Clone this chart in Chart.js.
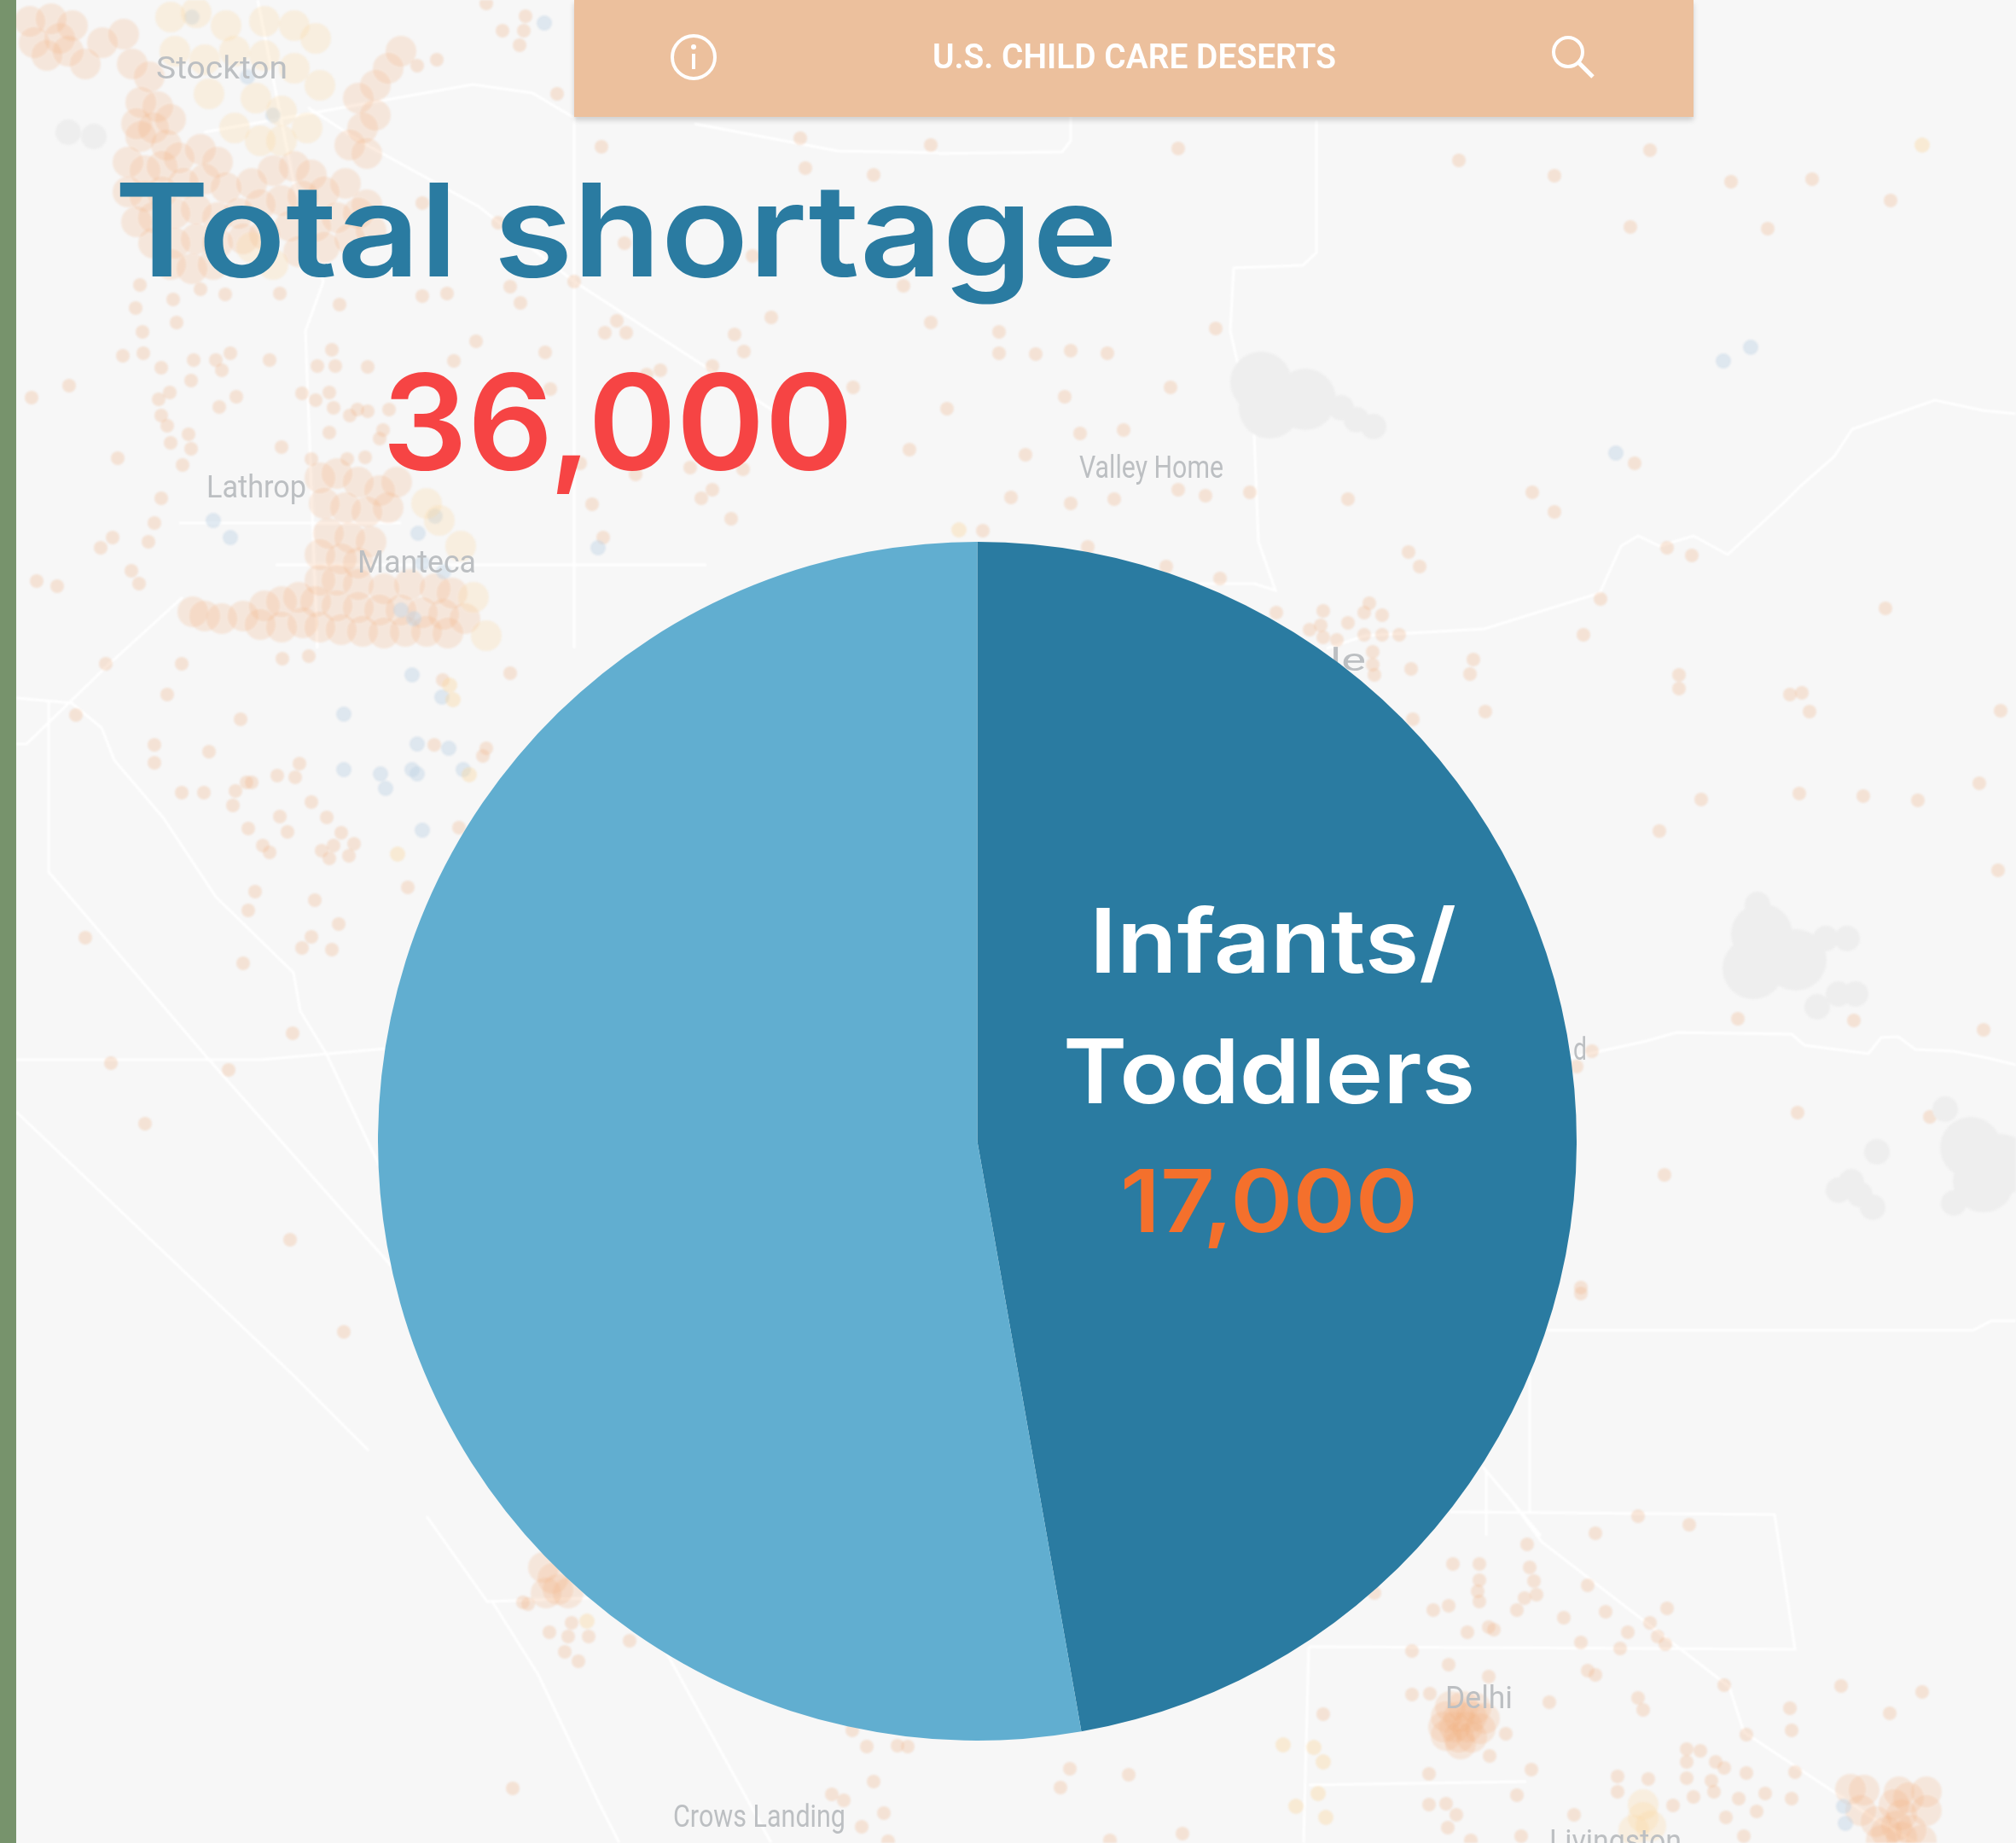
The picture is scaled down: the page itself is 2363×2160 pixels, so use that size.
<!DOCTYPE html>
<html>
<head>
<meta charset="utf-8">
<title>Total shortage</title>
<script src="https://cdn.jsdelivr.net/npm/chart.js@4"></script>
<style>
    html, body { margin: 0; padding: 0; width: 2363px; height: 2160px; overflow: hidden; background: #f7f7f7; }
    canvas, svg { position: absolute; display: block; }
    #mapChart { left: 0; top: 0; filter: blur(1.2px); }
    #mapLabels, #overlay { left: 0; top: 0; }
    #pieChart { left: 443px; top: 635px; }
    #strip { position: absolute; left: 0; top: 0; width: 19px; height: 2160px; background: #77936c; }
    #header { position: absolute; left: 673px; top: 0; width: 1312px; height: 137px; background: #ecc09d; box-shadow: 0 4px 6px rgba(0, 0, 0, .16); }
    #mapLabels text { font-family: Roboto, sans-serif; font-size: 36px; fill: #bcbfc2; }
    #overlay text { font-family: Inter, sans-serif; font-weight: 600; }
</style>
</head>
<body>
<canvas id="mapChart" width="2363" height="2160"></canvas>
<svg id="mapLabels" width="2363" height="2160">
    <text x="183" y="92" textLength="154" lengthAdjust="spacingAndGlyphs">Stockton</text>
    <text x="242" y="583" textLength="117" lengthAdjust="spacingAndGlyphs">Lathrop</text>
    <text x="419" y="671" textLength="139" lengthAdjust="spacingAndGlyphs">Manteca</text>
    <text x="1265" y="560" textLength="169" lengthAdjust="spacingAndGlyphs">Valley Home</text>
    <text x="1694" y="2002" textLength="79" lengthAdjust="spacingAndGlyphs">Delhi</text>
    <text x="789" y="2141" textLength="202" lengthAdjust="spacingAndGlyphs">Crows Landing</text>
    <text x="1816" y="2170" textLength="155" lengthAdjust="spacingAndGlyphs">Livingston</text>
    <text x="1559" y="786" textLength="42" lengthAdjust="spacingAndGlyphs">le</text>
    <text x="1844" y="1242" textLength="16" lengthAdjust="spacingAndGlyphs">d</text>
</svg>
<canvas id="pieChart" width="1405" height="1405"></canvas>
<div id="strip"></div>
<div id="header"></div>
<svg id="overlay" width="2363" height="2160">
    <circle cx="813" cy="67" r="25" fill="none" stroke="#fff" stroke-width="4"/>
    <circle cx="813" cy="55" r="3" fill="#fff"/>
    <line x1="813" y1="63" x2="813" y2="81" stroke="#fff" stroke-width="4"/>
    <circle cx="1838" cy="61" r="17" fill="none" stroke="#fff" stroke-width="4"/>
    <line x1="1850" y1="73" x2="1867" y2="90" stroke="#fff" stroke-width="5"/>
    <text x="1093" y="80" font-size="41" font-weight="700" fill="#fff" textLength="473" lengthAdjust="spacingAndGlyphs" style="font-family: Roboto, sans-serif">U.S. CHILD CARE DESERTS</text>
    <text x="134" y="324" font-size="151" fill="#2a7ba1" textLength="1176" lengthAdjust="spacingAndGlyphs">Total shortage</text>
    <text x="448" y="550" font-size="154" fill="#f64444" textLength="552" lengthAdjust="spacingAndGlyphs">36,000</text>
    <text x="1277" y="1140" font-size="104" font-weight="500" fill="#fff" textLength="430" lengthAdjust="spacingAndGlyphs">Infants/</text>
    <text x="1246" y="1293" font-size="104" font-weight="500" fill="#fff" textLength="483" lengthAdjust="spacingAndGlyphs">Toddlers</text>
    <text x="1313" y="1444" font-size="102" fill="#f4702c" textLength="349" lengthAdjust="spacingAndGlyphs">17,000</text>
</svg>

<script>
// Pie values: 17,000 is printed, the other slice is the rest of the 36,000 total
const categories = ['Infants/Toddlers', 'Other ages'];
const shortage = [17000, 19000];

// Backdrop map in image pixels
const orangeDots = [
    [1381,174],[1710,188],[1822,206],[1934,176],[2029,213],[2124,210],[2216,235],[1911,266],[2072,268],
    [1171,389],[1171,414],[1214,415],[1255,411],[1298,414],[1425,385],[1372,454],[1248,465],[1110,479],
    [1266,508],[1317,504],[1202,533],[1185,583],[1255,590],[1306,585],[1381,574],[1413,581],[1465,577],
    [1580,585],[1916,543],[1796,577],[1822,600],[1651,647],[1664,664],[1152,622],[1275,641],[1367,664],
    [1430,678],[1954,642],[1983,651],[1876,702],[1856,744],[2210,713],[1727,773],[1723,790],[1654,784],
    [1968,791],[1968,807],[2098,814],[2112,812],[2121,834],[1741,834],[2345,833],[1994,937],[2109,930],
    [2184,933],[2248,938],[2320,918],[1945,974],[2342,1020],
    [1551,716],[1605,707],[1599,718],[1620,721],[1580,730],[1548,733],[1535,738],[1551,747],[1567,750],
    [1599,744],[1620,744],[1640,744],[1609,764],[1609,779],[1611,791],[1496,718],[1656,843],
    [124,778],[89,838],[213,778],[196,814],[282,843],[331,772],[362,769],[181,873],[181,894],[245,881],
    [213,929],[239,929],[276,927],[273,944],[289,917],[295,917],[325,909],[346,911],[351,895],[365,940],
    [328,957],[337,975],[383,958],[291,971],[308,991],[316,999],[377,997],[391,991],[386,1006],[400,976],
    [415,989],[409,1003],[299,1045],[291,1067],[369,1055],[397,1083],[365,1098],[354,1111],[389,1113],
    [100,1099],[285,1129],[343,1211],[130,1246],[268,1254],[170,1317],[340,1453],[403,1561],
    [478,1040],[538,970],[509,873],[519,797],[570,877],[566,886],[598,789],
    [1920,1777],[1980,1787],[1870,1797],[1790,1810],[1703,1833],[1734,1833],[1793,1837],[1798,1853],
    [1734,1852],[1732,1865],[1734,1877],[1861,1858],[1801,1869],[1787,1873],[1778,1887],[1698,1882],
    [1680,1887],[1611,1867],[1833,1896],[1882,1889],[1954,1885],[1934,1902],[1908,1913],[1943,1918],
    [1720,1913],[1745,1907],[1751,1910],[1853,1925],[1899,1932],[1952,1927],[1655,1935],[1698,1951],
    [1745,1965],[1861,1958],[1870,1963],[2021,1975],[2158,1976],[2253,1983],[1920,1990],[1816,1995],
    [1926,2004],[2098,2002],[2215,2008],[2100,2028],[2047,2033],[1655,1986],[1676,1985],[1551,2009],
    [1765,2032],
    [1746,2058],[1795,2074],[1675,2079],[1778,2104],[1675,2115],[1695,2114],[1707,2127],[1697,2142],
    [1254,2073],[1323,2080],[1243,2095],[1024,2088],[975,2103],[989,2110],[1036,2125],[1010,2141],
    [601,2096],[999,2028],[1016,2047],[1052,2046],[1064,2047],[1386,2149],[1301,2157],[1041,2158],
    [644,1913],[670,1902],[690,1918],[666,1918],[662,1936],[678,1947],[738,1923],
    [613,1878],[619,1880],
    [1977,2050],[1993,2052],[1977,2065],[2011,2065],[2021,2072],[2047,2078],[2104,2077],[1896,2082],
    [1932,2085],[1977,2084],[2006,2087],[1896,2100],[2009,2100],[1985,2106],[2038,2108],[2069,2102],
    [2100,2108],[1961,2116],[2059,2123],[2023,2130],[1845,2127],[1783,2152],[1724,2157],[2044,2152],
    [2037,1194],[2173,1196],[2325,1207],[1866,1232],[1848,1250],[2107,1304],[2262,1309],[1951,1377],
    [1853,1509],[1853,1516],
    [705,172],[944,197],[1024,205],[938,162],[1091,170],[653,110],[589,36],[616,19],[614,36],[609,53],
    [512,70],[489,77],[570,4],[495,238],[584,261],[598,336],[610,355],[673,330],[495,347],[524,344],
    [398,357],[1059,335],[732,285],[882,300],[904,372],[1091,378],[723,376],[709,390],[734,390],[861,392],
    [872,412],[558,400],[639,413],[532,423],[835,429],[774,434],[758,439],[431,430],[316,422],[270,414],
    [253,422],[260,434],[227,422],[224,446],[372,429],[393,429],[389,410],[189,431],[168,414],[144,417],
    [81,452],[37,466],[186,468],[199,460],[257,477],[277,465],[354,461],[370,469],[386,460],[391,478],
    [419,480],[431,482],[456,480],[645,456],[1000,454],[1066,527],[871,550],[809,548],[835,574],[822,584],
    [857,608],[694,591],[707,630],[745,556],[680,543],[330,524],[138,537],[167,389],[207,378],[159,361],
    [203,351],[164,334],[235,339],[264,345],[328,344],[410,487],[386,507],[365,538],[407,538],[428,536],
    [445,514],[449,504],[189,487],[196,499],[221,509],[200,519],[224,526],[214,545],[189,584],[181,613],
    [174,635],[132,630],[118,642],[154,669],[163,684],[43,681],[67,687]
];
// Stockton, Manteca and the town clusters, where the dots pile up
const denseDots = [
    [35,25],[60,22],[85,30],[70,45],[40,50],[55,65],[80,60],[100,75],[120,50],[145,40],[155,75],[175,90],
    [165,120],[185,125],[160,145],[180,150],[200,140],[165,160],[195,170],[150,190],[170,200],[190,195],
    [210,185],[235,175],[255,190],[150,225],[170,230],[190,225],[215,215],[240,210],[265,220],[295,215],
    [320,200],[345,195],[365,205],[160,260],[180,255],[205,250],[230,245],[255,255],[280,250],[305,240],
    [330,235],[355,230],[380,225],[405,215],[180,285],[205,285],[230,280],[255,285],[285,280],[310,275],
    [340,265],[370,265],[395,255],[420,250],[200,310],[225,315],[250,310],[350,295],[380,290],[410,280],
    [435,270],[430,240],[420,115],[440,100],[455,80],[470,60],[440,135],[425,150],[410,170],[430,180],
    [375,560],[395,555],[420,565],[445,575],[465,565],[380,590],[405,595],[430,600],[455,595],[385,625],
    [410,630],[435,635],[375,650],[400,655],[420,660],[375,680],[395,680],[420,685],[450,690],[480,685],
    [510,690],[530,695],[310,710],[330,705],[350,700],[370,705],[395,710],[420,712],[445,715],[470,715],
    [495,718],[520,720],[545,725],[260,725],[285,722],[305,732],[330,735],[355,730],[375,735],[400,738],
    [425,740],[450,742],[475,740],[500,740],[525,742],[226,717],[240,722],
    [1700,2000],[1715,2000],[1730,2002],[1695,2012],[1710,2012],[1725,2012],[1740,2014],[1692,2024],
    [1705,2024],[1720,2024],[1735,2026],[1695,2034],[1710,2036],[1725,2036],[1712,2044],
    [648,1850],[654,1863],[666,1867],[640,1867],[637,1837],
    [2169,2097],[2185,2098],[2226,2100],[2237,2107],[2258,2100],[2181,2122],[2229,2127],[2199,2135],
    [2223,2140],[2240,2145],[2211,2147],[2258,2122],[2229,2153],[2252,2157],[2205,2157],[2220,2115]
];
const yellowPatches = [
    [200,20],[230,15],[265,30],[310,25],[345,30],[370,45],[205,60],[240,70],[275,60],[310,65],[345,80],
    [375,100],[245,110],[300,115],[330,130],[360,150],[275,150],[305,165],[330,165],[295,290],[320,310],
    [500,590],[515,610],[540,640],[555,700],[570,745],[1926,2130],[1926,2115],[1935,2140],[1915,2145]
];
const yellowDots = [
    [466,1001],[527,803],[531,820],[550,908],[1124,621],[2253,170],[688,1900],[1551,2065],[1540,2048],
    [1504,2045],[1545,2102],[1554,2130],[1519,2117]
];
const blueDots = [
    [638,27],[2020,423],[2052,407],[483,791],[403,837],[518,817],[489,872],[526,877],[403,902],[446,907],
    [452,924],[483,902],[489,907],[543,902],[495,973],[701,642],[1894,531],[2161,2117],[2163,2137],
    [250,610],[270,630],[490,625],[510,605],[495,660],[520,670],[470,715],[485,725],[225,20],[290,90],
    [320,135]
];
const lakesBig = [
    [2065,1095],[2055,1135],[2105,1125],[2310,1345],[2345,1365],[2325,1385],[1478,448],[1488,478],[1530,468]
];
const lakesSmall = [
    [2060,1060],[2140,1100],[2165,1100],[2155,1165],[2130,1180],[2175,1165],[2155,1395],[2170,1385],[2180,1400],
    [2195,1415],[2200,1350],[2280,1300],[2290,1410],[1572,478],[1590,492],[1610,500],[80,155],[110,160]
];
const roads = [
    [[1840,1240],[1930,1220],[1965,1210],[2100,1212],[2115,1225],[2190,1235],[2205,1216],[2225,1215],[2245,1230],[2290,1232],[2330,1240],[2363,1248]],
    [[1555,760],[1600,745],[1740,737],[1875,695],[1900,640],[1920,628],[1945,640],[1985,628],[2025,650],[2090,590],[2110,570],[2150,535],[2171,503],[2228,483],[2268,469],[2324,481],[2363,485]],
    [[1543,141],[1543,296],[1527,311],[1446,314],[1442,388],[1470,509],[1475,635],[1495,692],[1470,684],[1406,684]],
    [[1100,180],[1245,178],[1255,165],[1255,130]],
    [[19,818],[84,824],[119,853],[134,891],[191,958],[253,1051],[344,1140],[352,1185],[383,1236],[452,1382]],
    [[57,821],[57,1022],[245,1242],[459,1484]],
    [[19,1242],[306,1242],[452,1229]],
    [[19,1303],[344,1612],[432,1700]],
    [[500,1777],[571,1877],[690,1873]],
    [[577,1877],[631,1963],[702,2113],[726,2160]],
    [[779,1933],[904,2160]],
    [[19,872],[31,872],[126,780],[214,700]],
    [[361,126],[421,165],[561,242],[673,330],[912,485]],
    [[239,155],[554,99],[624,109],[673,138]],
    [[814,145],[982,177],[1100,179]],
    [[673,138],[673,760]],
    [[302,0],[344,213],[379,330],[358,388],[372,760]],
    [[210,613],[470,613]],
    [[323,662],[828,662]],
    [[1765,1750],[1807,1807],[2027,1977],[2044,2030],[2199,2133],[2246,2160]],
    [[1534,1930],[2104,1933],[2080,1775],[1700,1772]],
    [[1534,1930],[1528,2160]],
    [[1534,2092],[1789,2088]],
    [[1814,1559],[2313,1559],[2334,1548],[2363,1548]],
    [[1742,1724],[1742,1800]],
    [[1738,1719],[1806,1800]],
    [[1793,1612],[1793,1773]]
];

const toPoints = list => list.map(p => ({ x: p[0], y: p[1] }));

function dotLayer(list, color, radius) {
    return {
        data: toPoints(list),
        pointRadius: radius,
        pointBorderWidth: 0,
        backgroundColor: color,
        showLine: false
    };
}

function desenharMapa() {
    const roadLayers = roads.map(road => ({
        data: toPoints(road),
        showLine: true,
        borderColor: '#ffffff',
        borderWidth: 3,
        pointRadius: 0
    }));

    new Chart(document.getElementById('mapChart'), {
        type: 'scatter',
        data: {
            datasets: [
                dotLayer(lakesBig, '#eeeeee', 36),
                dotLayer(lakesSmall, '#eeeeee', 15),
                dotLayer(yellowPatches, 'rgba(250, 215, 160, .28)', 18),
                dotLayer(yellowDots, 'rgba(250, 215, 160, .4)', 9),
                dotLayer(blueDots, 'rgba(190, 210, 228, .45)', 9),
                dotLayer(denseDots, 'rgba(240, 175, 125, .22)', 18),
                dotLayer(orangeDots, 'rgba(240, 180, 135, .3)', 8),
                ...roadLayers
            ]
        },
        options: {
            responsive: false,
            animation: false,
            // no extra room for the big points, or the map shrinks away from the image edges
            layout: { padding: 0, autoPadding: false },
            plugins: { legend: { display: false }, tooltip: { enabled: false } },
            scales: {
                x: { type: 'linear', display: false, min: 0, max: 2363 },
                y: { type: 'linear', display: false, min: 0, max: 2160, reverse: true }
            }
        }
    });
}

function desenharPizza() {
    new Chart(document.getElementById('pieChart'), {
        type: 'pie',
        data: {
            labels: categories,
            datasets: [{
                data: shortage,
                backgroundColor: ['#2a7ba1', '#61aed0'],
                borderWidth: 0
            }]
        },
        options: {
            responsive: false,
            animation: false,
            layout: { padding: 0 },
            plugins: { legend: { display: false }, tooltip: { enabled: false } }
        }
    });
}

desenharMapa();
desenharPizza();
</script>
</body>
</html>
